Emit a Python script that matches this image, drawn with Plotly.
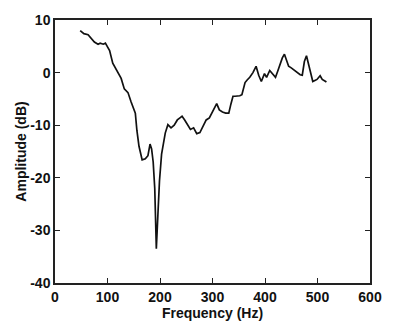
import plotly.graph_objects as go

freq_hz = [48, 55, 63, 71, 75, 82, 86, 92, 96, 100, 104, 110, 116, 121, 126, 132, 139, 145, 150, 153,
           156, 160, 166, 172, 177, 181, 184, 187, 190, 193, 196, 199, 203, 206, 210, 215, 221, 227, 233, 238,
           242, 247, 252, 258, 264, 270, 276, 282, 288, 294, 301, 308, 313, 319, 325, 331, 335, 339, 343, 347,
           352, 356, 359, 362, 366, 371, 377, 383, 388, 393, 399, 403, 409, 414, 420, 424, 429, 433, 437, 441,
           445, 450, 454, 459, 463, 467, 471, 475, 479, 483, 487, 491, 495, 499, 505, 509, 514, 517]
amp_db = [8.0, 7.4, 7.2, 6.4, 5.8, 5.4, 5.6, 5.4, 5.6, 4.9, 4.2, 1.8, 0.7, 0.0, -1.1, -3.1, -3.8, -5.6, -6.8, -7.7,
          -11.0, -14.0, -16.6, -16.4, -15.8, -13.6, -14.5, -17.0, -22.0, -33.5, -27.0, -20.6, -15.5, -13.6, -11.5, -9.9, -10.5, -10.0, -9.0, -8.6,
          -8.3, -9.0, -9.9, -10.8, -10.5, -11.6, -11.4, -10.2, -9.0, -8.6, -7.1, -5.9, -7.1, -7.5, -7.7, -7.7, -6.0, -4.5, -4.5, -4.5,
          -4.4, -4.2, -3.0, -1.9, -1.4, -0.9, 0.0, 1.2, -0.5, -1.7, -0.2, -0.9, 0.4, -0.3, -0.9, 0.2, 1.8, 2.8, 3.5, 2.3,
          1.2, 0.9, 0.6, 0.2, -0.2, -0.4, -0.5, 2.1, 3.2, 1.5, 0.0, -1.7, -1.5, -1.3, -0.6, -1.3, -1.6, -1.8]

x_ticks = [0, 100, 200, 300, 400, 500, 600]
y_ticks = [-40, -30, -20, -10, 0, 10]

fig = go.Figure()
fig.add_trace(go.Scatter(x=freq_hz, y=amp_db, mode="lines",
                         line=dict(color="#111111", width=1.7), showlegend=False))

font = dict(family="Liberation Sans, Arial, sans-serif", size=14, color="#111111", weight="bold")
axis_common = dict(showgrid=False, zeroline=False, showline=True, linecolor="#222222", linewidth=1.5,
                   mirror="ticks", ticks="inside", ticklen=5, tickwidth=1.2, tickcolor="#222222",
                   tickfont=font)

fig.update_layout(
    width=394, height=330,
    margin=dict(l=55, r=13, t=14, b=45),
    paper_bgcolor="white", plot_bgcolor="white",
    xaxis=dict(range=[0, 600], tickvals=x_ticks, ticktext=[str(v) for v in x_ticks],
               title=dict(text="Frequency (Hz)", font=font, standoff=4), **axis_common),
    yaxis=dict(range=[-40, 10], tickvals=y_ticks, ticktext=[str(v) for v in y_ticks],
               title=dict(text="Amplitude (dB)", font=font, standoff=0), **axis_common),
)

fig.write_html("out.html")
